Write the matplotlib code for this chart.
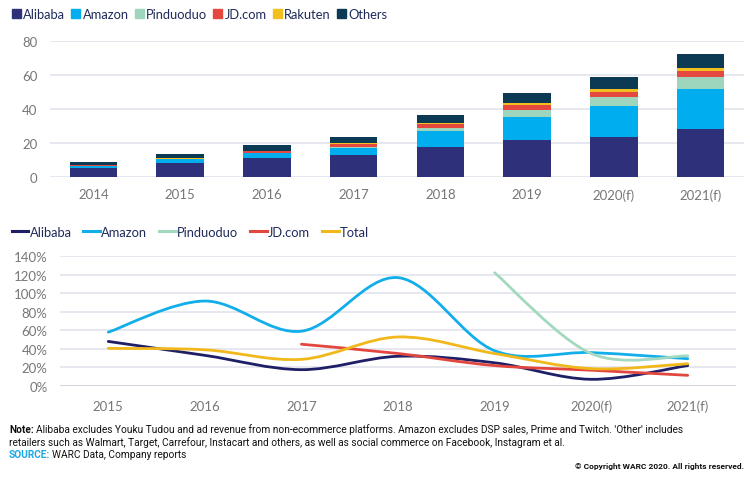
import numpy as np
import matplotlib
matplotlib.use("Agg")
import matplotlib.pyplot as plt
from matplotlib.path import Path
from matplotlib.patches import PathPatch
from matplotlib.lines import Line2D
from matplotlib.patches import Patch
from matplotlib.transforms import offset_copy

plt.rcParams['font.family'] = ['Lato', 'DejaVu Sans']

# ---- data: ad revenue by platform (US$ bn) ----
bar_years = ['2014', '2015', '2016', '2017', '2018', '2019', '2020(f)', '2021(f)']
alibaba = [5.4, 8.2, 11.0, 13.2, 17.5, 21.6, 23.3, 28.4]
amazon = [1.2, 2.2, 3.2, 4.1, 9.4, 13.7, 18.3, 23.4]
pinduoduo = [0.0, 0.0, 0.0, 0.6, 2.1, 3.9, 5.3, 7.0]
jdcom = [0.2, 0.4, 1.0, 1.7, 2.4, 3.2, 3.1, 3.7]
rakuten = [0.0, 0.1, 0.2, 0.4, 0.3, 1.1, 1.6, 1.6]
others = [2.2, 2.5, 3.2, 3.8, 4.8, 6.1, 7.0, 8.3]

# ---- data: growth rates ----
line_years = ['2015', '2016', '2017', '2018', '2019', '2020(f)', '2021(f)']
g_alibaba = [0.48, 0.33, 0.176, 0.32, 0.25, 0.072, 0.22]
g_amazon = [0.58, 0.915, 0.59, 1.167, 0.38, 0.36, 0.294]
g_pinduoduo = [None, None, None, None, 1.22, 0.35, 0.325]
g_jdcom = [None, None, 0.45, 0.35, 0.22, 0.17, 0.115]
g_total = [0.405, 0.39, 0.287, 0.528, 0.35, 0.187, 0.24]

c_ali = '#2e3179'
c_amz = '#00aeef'
c_pdd = '#9dd6bd'
c_jd = '#e5483e'
c_rak = '#f2c01e'
c_oth = '#0c3a55'
txt = '#1f2a5a'
gray = '#777777'

fig = plt.figure(figsize=(7.5, 4.81), dpi=100)

# ---------- top: stacked bars ----------
ax1 = fig.add_axes([50 / 750, 1 - 178 / 481, 694 / 750, 136 / 481])
x = np.arange(len(bar_years))
bottom = np.zeros(len(bar_years))
series = [(alibaba, c_ali, 'Alibaba'), (amazon, c_amz, 'Amazon'),
          (pinduoduo, c_pdd, 'Pinduoduo'), (jdcom, c_jd, 'JD.com'),
          (rakuten, c_rak, 'Rakuten'), (others, c_oth, 'Others')]
for vals, col, name in series:
    ax1.bar(x, vals, 0.55, bottom=bottom, color=col, label=name, zorder=3)
    bottom += np.array(vals)
ax1.set_xlim(-0.5, 7.5)
ax1.set_ylim(0, 80)
ax1.set_yticks([0, 20, 40, 60, 80])
ax1.set_xticks(x)
ax1.set_xticklabels(bar_years)
ax1.grid(axis='y', color='#e3e3ee', linewidth=1.2, zorder=0)
for s in ax1.spines.values():
    s.set_visible(False)
ax1.tick_params(length=0, colors=gray, labelsize=9.5, pad=8)
ax1.tick_params(axis='y', pad=9)

handles = [Patch(color=c, label=n) for _, c, n in series]
fig.legend(handles=handles, loc='upper left', bbox_to_anchor=(0.0, 1.005), ncol=6,
           frameon=False, fontsize=9.3, handlelength=0.7, handleheight=0.7,
           handletextpad=0.2, columnspacing=0.45, labelcolor=txt)


# ---------- bottom: smoothed growth lines ----------
def smooth_path(xs, ys, t=1 / 6):
    pts = np.column_stack([xs, ys])
    verts = [pts[0]]
    codes = [Path.MOVETO]
    n = len(pts)
    for i in range(n - 1):
        p0 = pts[i - 1] if i > 0 else pts[i]
        p1 = pts[i]
        p2 = pts[i + 1]
        p3 = pts[i + 2] if i + 2 < n else pts[i + 1]
        verts += [p1 + (p2 - p0) * t, p2 - (p3 - p1) * t, p2]
        codes += [Path.CURVE4] * 3
    return Path(verts, codes)


ax2 = fig.add_axes([60 / 750, 1 - 387 / 481, 676 / 750, 130 / 481])
lines = [(g_alibaba, '#1e1f66', 'Alibaba'), (g_amazon, '#12aeea', 'Amazon'),
         (g_pinduoduo, '#a3d9bf', 'Pinduoduo'), (g_jdcom, '#e2473f', 'JD.com'),
         (g_total, '#f1b81c', 'Total')]
xl = np.arange(len(line_years))
for vals, col, name in lines:
    idx = [i for i, v in enumerate(vals) if v is not None]
    p = smooth_path(xl[idx].astype(float), np.array([vals[i] for i in idx]))
    ax2.add_patch(PathPatch(p, facecolor='none', edgecolor=col, lw=2.0,
                            capstyle='round', zorder=3))
ax2.set_xlim(-0.5, 6.5)
ax2.set_ylim(0, 1.4)
ax2.set_yticks(np.arange(0, 1.41, 0.2))
ax2.set_yticklabels([f'{int(round(v * 100))}%' for v in np.arange(0, 1.41, 0.2)])
ax2.set_xticks(xl)
ax2.set_xticklabels(line_years)
ax2.grid(axis='y', color='#e3e3ee', linewidth=1.2, zorder=0)
for s in ax2.spines.values():
    s.set_visible(False)
ax2.axhline(0, color='#555555', lw=0.9, zorder=2)
ax2.tick_params(length=0, colors=gray, labelsize=9.5, pad=10)
ax2.tick_params(axis='y', pad=9)

lhandles = [Line2D([], [], color=c, lw=2.2, label=n) for _, c, n in lines]
fig.legend(handles=lhandles, loc='upper left', bbox_to_anchor=(0.0, 0.553), ncol=5,
           frameon=False, fontsize=9.3, handlelength=1.3, handletextpad=0.1,
           columnspacing=0.9, labelcolor=txt)

# ---------- footnotes ----------
note_font = ['Liberation Sans Narrow', 'Roboto', 'DejaVu Sans']
fs = 7.3
fig.canvas.draw()
r = fig.canvas.get_renderer()

t1 = fig.text(0.012, 1 - 430 / 481, "Note:", fontsize=fs, color='#111111',
              fontweight='bold', va='center', family=note_font)
w1 = t1.get_window_extent(r).width
fig.text(0.012, 1 - 430 / 481,
         "Alibaba excludes Youku Tudou and ad revenue from non-ecommerce platforms. "
         "Amazon excludes DSP sales, Prime and Twitch. 'Other' includes",
         fontsize=fs, color='#111111', va='center', family=note_font,
         transform=offset_copy(fig.transFigure, fig=fig, x=w1 + 2, units='dots'))
fig.text(0.012, 1 - 443 / 481,
         "retailers such as Walmart, Target, Carrefour, Instacart and others, as well as social "
         "commerce on Facebook, Instagram et al.",
         fontsize=fs, color='#111111', va='center', family=note_font)
t2 = fig.text(0.012, 1 - 455 / 481, "SOURCE:", fontsize=fs, color='#1aa7e8',
              fontweight='bold', va='center', family=note_font)
w2 = t2.get_window_extent(r).width
fig.text(0.012, 1 - 455 / 481, "WARC Data, Company reports", fontsize=fs,
         color='#111111', va='center', family=note_font,
         transform=offset_copy(fig.transFigure, fig=fig, x=w2 + 2, units='dots'))
fig.text(0.992, 1 - 467 / 481, "\u00a9 Copyright WARC 2020. All rights reserved.",
         fontsize=6.0, color='#111111', fontweight='bold', ha='right', va='center',
         family=note_font)

fig.savefig('out.png', dpi=100)
